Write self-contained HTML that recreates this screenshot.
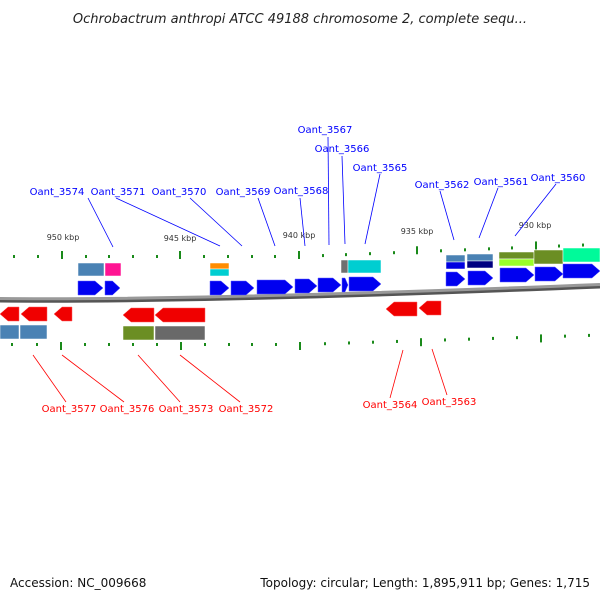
<!DOCTYPE html>
<html><head><meta charset="utf-8"><style>
body{margin:0;background:#fff;width:600px;height:600px;overflow:hidden}
text{font-family:"DejaVu Sans","Liberation Sans",sans-serif}
</style></head><body>
<svg id="map" width="600" height="600" xmlns="http://www.w3.org/2000/svg">
<text x="300" y="23" text-anchor="middle" font-size="13" font-style="italic" fill="#222">Ochrobactrum anthropi ATCC 49188 chromosome 2, complete sequ...</text>
<text x="10" y="587" font-size="12" fill="#111">Accession: NC_009668</text>
<text x="590" y="587" font-size="12" text-anchor="end" fill="#111">Topology: circular; Length: 1,895,911 bp; Genes: 1,715</text>
<path d="M0,301 Q200,303 600,287" stroke="#555" stroke-width="3" fill="none"/>
<path d="M0,298.5 Q200,300.5 600,284.5" stroke="#999" stroke-width="3" fill="none"/>
<g id="g"></g>
</svg>
<script>
// forward genes: [x1,x2,yTop]
const fwdGenes=[[78,103,281],[105,120,281],[210,229,281],[231,254,281],[257,293,280],[295,317,279],[318,341,278],[342,348,278],[349,381,277],[446,465,272],[468,493,271],[500,534,268],[535,563,267],[563,600,264]];
const revGenes=[[0,19,307],[21,47,307],[54,72,307],[123,154,308],[155,205,308],[386,417,302],[419,441,301]];
// boxes: [x1,x2,yTop,height,color]
const boxes=[[78,104,263,13,"#4a82b4"],[105,121,263,13,"#ff1493"],[210,229,263,6,"#ff8c00"],[210,229,269,7,"#00ced1"],[341,348,260,13,"#707070"],[348,381,260,13,"#00ced1"],
[446,465,255,7,"#4a82b4"],[446,465,262,7,"#0000e0"],[467,493,254,7,"#4a82b4"],[467,493,261,7,"#000080"],[499,534,252,7,"#6b8e23"],[499,534,259,7,"#9aff2a"],[534,563,250,14,"#6b8e23"],[563,600,248,14,"#00fa9a"],
[0,19,325,14,"#4a82b4"],[20,47,325,14,"#4a82b4"],[123,154,326,14,"#6b8e23"],[155,205,326,14,"#696969"]];
const topTicks=[14,38,62,86,109,133,157,180,204,228,252,275,299,323,346,370,394,417,441,465,489,512,536,559,583];
const botTicks=[12,37,61,85,109,133,157,181,205,229,252,276,300,325,349,373,397,421,445,469,493,517,541,565,589];
const kbpLabels=["950 kbp","945 kbp","940 kbp","935 kbp","930 kbp"];
const kbpPos=[[63,240],[180,241],[299,238],[417,234],[535,228]];
const blueLabels=[["Oant_3574",57,195,88,198,113,247],["Oant_3571",118,195,116,198,220,246],["Oant_3570",179,195,190,198,242,246],["Oant_3569",243,195,258,198,275,246],["Oant_3568",301,194,300,198,305,246],["Oant_3567",325,133,328,137,329,245],["Oant_3566",342,152,342,156,345,244],["Oant_3565",380,171,380,174,365,244],["Oant_3562",442,188,440,191,454,240],["Oant_3561",501,185,498,188,479,238],["Oant_3560",558,181,556,184,515,236]];
const redLabels=[["Oant_3577",69,412,33,355,66,402],["Oant_3576",127,412,62,355,124,402],["Oant_3573",186,412,138,355,180,402],["Oant_3572",246,412,180,355,240,402],["Oant_3564",390,408,403,350,390,398],["Oant_3563",449,405,432,349,447,395]];
const NS="http://www.w3.org/2000/svg",G=document.getElementById('g');
function mk(t,a){const e=document.createElementNS(NS,t);for(const k in a)e.setAttribute(k,a[k]);G.appendChild(e);return e;}
function curveY(x){return x<300?0:-(x-300)*0.045;}
boxes.forEach((b,i)=>{const e=mk('rect',{x:b[0],y:b[2],width:b[1]-b[0],height:b[3],fill:b[4],stroke:'#fff','stroke-width':0.5});

});
fwdGenes.forEach(g=>{const [a,b,y]=g,h=14,hd=Math.min(8,(b-a)/2);
const e=mk('polygon',{points:`${a},${y} ${b-hd},${y} ${b},${y+h/2} ${b-hd},${y+h} ${a},${y+h}`,fill:'#0000f0',stroke:'#6060ff','stroke-width':0.5});

});
revGenes.forEach(g=>{const [a,b,y]=g,h=14,hd=Math.min(8,(b-a)/2);
const e=mk('polygon',{points:`${b},${y} ${a+hd},${y} ${a},${y+h/2} ${a+hd},${y+h} ${b},${y+h}`,fill:'#f00000',stroke:'#ff6060','stroke-width':0.5});

});
topTicks.forEach((x,i)=>{const big=i%5==2,y=257+curveY(x)*0.9;
const e=mk('rect',{x:x-1,y:big?y-6:y-2,width:2,height:big?8:3,fill:'#1a8a1a'});

});
botTicks.forEach((x,i)=>{const big=i%5==2,y=344+curveY(x)*0.7;
const e=mk('rect',{x:x-1,y:big?y-2:y-1,width:2,height:big?8:3,fill:'#1a8a1a'});

});
kbpLabels.forEach((t,i)=>{const e=mk('text',{x:kbpPos[i][0],y:kbpPos[i][1],'font-size':8,'text-anchor':'middle',fill:'#333'});e.textContent=t;

});
function lab(L,col){L.forEach(l=>{const ln=mk('line',{x1:l[3],y1:l[4],x2:l[5],y2:l[6],stroke:col,'stroke-width':0.8});


const t=mk('text',{x:l[1],y:l[2],'font-size':10,'text-anchor':'middle',fill:col});t.textContent=l[0];

});}
lab(blueLabels,'#0000ff');lab(redLabels,'#ff0000');
</script>
</body></html>
